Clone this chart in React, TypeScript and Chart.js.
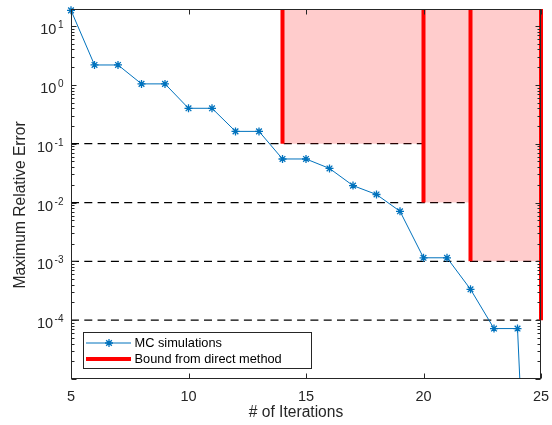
import React, { useEffect, useRef } from 'react';
import { Chart, registerables } from 'chart.js';

Chart.register(...registerables);

// ---- data ----
const iterations = [5, 6, 7, 8, 9, 10, 11, 12, 13, 14, 15, 16, 17, 18, 19, 20, 21, 22, 23, 24, 25];
const mcError = [18.5, 2.18, 2.18, 1.04, 1.04, 0.40, 0.40, 0.162, 0.162, 0.055, 0.055, 0.038, 0.0194, 0.0137, 0.0071, 0.00115, 0.00115, 3.35e-4, 7.2e-5, 7.2e-5, 1.3e-13];
const boundIter = [14, 20, 22, 25];
const boundValue = [1e-1, 1e-2, 1e-3, 1e-4];
const xTicks = [5, 10, 15, 20, 25];
const yDecades = [1, 0, -1, -2, -3, -4];
const legendLabels = ['MC simulations', 'Bound from direct method'];
const xTitle = '# of Iterations';
const yTitle = 'Maximum Relative Error';

const X_MIN = 5;
const X_MAX = 25;
const Y_MIN = 1e-5;
const Y_MAX = 19.5;

const BLUE = '#0072BD';
const RED = 'rgb(255,0,0)';
const PINK = 'rgba(255,0,0,0.2)';
const AXIS = '#262626';
const FONT = '"Liberation Sans", Arial, Helvetica, sans-serif';

function drawStar(ctx: CanvasRenderingContext2D, x: number, y: number, r: number) {
  const d = r * Math.SQRT1_2;
  ctx.beginPath();
  ctx.moveTo(x - r, y); ctx.lineTo(x + r, y);
  ctx.moveTo(x, y - r); ctx.lineTo(x, y + r);
  ctx.moveTo(x - d, y - d); ctx.lineTo(x + d, y + d);
  ctx.moveTo(x - d, y + d); ctx.lineTo(x + d, y - d);
  ctx.stroke();
}

const axesPlugin = {
  id: 'matlabAxes',
  afterDraw(chart: any) {
    const ctx: CanvasRenderingContext2D = chart.ctx;
    const { left, right, top, bottom } = chart.chartArea;
    const xs = chart.scales.x;
    const ys = chart.scales.y;
    ctx.save();
    ctx.strokeStyle = AXIS;
    ctx.lineWidth = 1;
    // box
    ctx.strokeRect(Math.round(left) + 0.5, Math.round(top) + 0.5, Math.round(right - left) - 1, Math.round(bottom - top) - 1);

    const L = Math.round(left) + 0.5;
    const R = Math.round(right) - 0.5;
    const T = Math.round(top) + 0.5;
    const B = Math.round(bottom) - 0.5;

    // x ticks
    ctx.beginPath();
    for (const v of xTicks) {
      const px = Math.round(xs.getPixelForValue(v)) + 0.5;
      ctx.moveTo(px, B); ctx.lineTo(px, B - 5);
      ctx.moveTo(px, T); ctx.lineTo(px, T + 5);
    }
    // y ticks (major + minor)
    for (let e = -5; e <= 1; e++) {
      for (let m = 1; m <= 9; m++) {
        const v = m * Math.pow(10, e);
        if (v < Y_MIN || v > Y_MAX) continue;
        const py = Math.round(ys.getPixelForValue(v)) + 0.5;
        const len = m === 1 ? 5 : 3;
        ctx.moveTo(L, py); ctx.lineTo(L + len, py);
        ctx.moveTo(R, py); ctx.lineTo(R - len, py);
      }
    }
    ctx.stroke();

    // x tick labels
    ctx.fillStyle = AXIS;
    ctx.font = `14.5px ${FONT}`;
    ctx.textAlign = 'center';
    ctx.textBaseline = 'middle';
    for (const v of xTicks) {
      ctx.fillText(String(v), xs.getPixelForValue(v), bottom + 17.5);
    }

    // y tick labels: 10^e
    const rightEdge = left - 7.5;
    for (const e of yDecades) {
      const py = ys.getPixelForValue(Math.pow(10, e));
      const expStr = String(e);
      ctx.font = `10px ${FONT}`;
      const expW = ctx.measureText(expStr).width;
      ctx.font = `14.5px ${FONT}`;
      const baseW = ctx.measureText('10').width;
      const gap = 1.5;
      const x0 = rightEdge - expW - gap - baseW;
      ctx.textAlign = 'left';
      ctx.textBaseline = 'alphabetic';
      ctx.fillText('10', x0, py + 8);
      ctx.font = `10px ${FONT}`;
      ctx.fillText(expStr, x0 + baseW + gap, py + 2);
    }

    // axis titles
    ctx.font = `15.6px ${FONT}`;
    ctx.textAlign = 'center';
    ctx.textBaseline = 'middle';
    ctx.fillText(xTitle, (left + right) / 2 - 10, bottom + 34);
    ctx.save();
    ctx.translate(21, (top + bottom) / 2 + 11);
    ctx.rotate(-Math.PI / 2);
    ctx.fillText(yTitle, 0, 0);
    ctx.restore();

    // legend
    const lx = Math.round(left + 12) + 0.5;
    const ly = Math.round(bottom - 47.5) + 0.5;
    const lw = 228;
    const lh = 36;
    ctx.fillStyle = '#ffffff';
    ctx.fillRect(lx, ly, lw, lh);
    ctx.strokeStyle = AXIS;
    ctx.lineWidth = 1;
    ctx.strokeRect(lx, ly, lw, lh);

    const row1 = ly + 10.5;
    const row2 = ly + 26.5;
    ctx.strokeStyle = BLUE;
    ctx.lineWidth = 1;
    ctx.beginPath();
    ctx.moveTo(lx + 2.5, row1); ctx.lineTo(lx + 47.5, row1);
    ctx.stroke();
    ctx.lineWidth = 1.3;
    drawStar(ctx, lx + 25.5, row1, 4);

    ctx.strokeStyle = RED;
    ctx.lineWidth = 4;
    ctx.beginPath();
    ctx.moveTo(lx + 2.5, row2); ctx.lineTo(lx + 47.5, row2);
    ctx.stroke();

    ctx.fillStyle = '#000000';
    ctx.font = `12.8px ${FONT}`;
    ctx.textAlign = 'left';
    ctx.textBaseline = 'middle';
    ctx.fillText(legendLabels[0], lx + 51, row1 + 0.5);
    ctx.fillText(legendLabels[1], lx + 51, row2 + 0.5);

    ctx.restore();
  },
};

export default function App() {
  const canvasRef = useRef<HTMLCanvasElement | null>(null);

  useEffect(() => {
    const canvas = canvasRef.current;
    if (!canvas) return;

    const datasets: any[] = [];

    // MC simulations
    datasets.push({
      type: 'line',
      label: legendLabels[0],
      data: iterations.map((x, i) => ({ x, y: mcError[i] })),
      borderColor: BLUE,
      backgroundColor: BLUE,
      borderWidth: 1,
      pointStyle: 'star',
      pointRadius: 4,
      pointBorderWidth: 1.3,
      pointBorderColor: BLUE,
      fill: false,
      order: 0,
      clip: { left: 6, top: 6, right: 6, bottom: 0 },
    });

    // red bounds
    const redData: any[] = [];
    boundIter.forEach((bx, k) => {
      redData.push({ x: bx, y: Y_MAX });
      redData.push({ x: bx, y: boundValue[k] });
      redData.push({ x: bx, y: null });
    });
    datasets.push({
      type: 'line',
      label: legendLabels[1],
      data: redData,
      borderColor: RED,
      borderWidth: 4,
      pointRadius: 0,
      spanGaps: false,
      fill: false,
      order: 1,
      clip: { left: 0, top: 0, right: 3, bottom: 0 },
    });

    // pink regions
    for (let k = 0; k < boundIter.length - 1; k++) {
      datasets.push({
        type: 'line',
        data: [
          { x: boundIter[k], y: boundValue[k] },
          { x: boundIter[k + 1], y: boundValue[k] },
        ],
        borderColor: 'rgba(0,0,0,0)',
        borderWidth: 0,
        backgroundColor: PINK,
        pointRadius: 0,
        fill: 'end',
        order: 2,
        clip: 0,
      });
    }

    // dashed reference lines
    for (let k = 0; k < boundValue.length; k++) {
      const xEnd = boundIter[Math.min(k + 1, boundIter.length - 1)];
      datasets.push({
        type: 'line',
        data: [
          { x: X_MIN, y: boundValue[k] },
          { x: xEnd, y: boundValue[k] },
        ],
        borderColor: '#000000',
        borderWidth: 1.2,
        borderDash: [8, 5.3],
        pointRadius: 0,
        fill: false,
        order: 3,
        clip: 0,
      });
    }

    const chart = new Chart(canvas, {
      type: 'line',
      data: { datasets },
      options: {
        responsive: false,
        animation: false,
        devicePixelRatio: 1,
        parsing: true,
        layout: { padding: { left: 71, right: 11, top: 9, bottom: 46 } },
        scales: {
          x: { type: 'linear', min: X_MIN, max: X_MAX, display: false },
          y: { type: 'logarithmic', min: Y_MIN, max: Y_MAX, display: false },
        },
        plugins: {
          legend: { display: false },
          tooltip: { enabled: false },
        },
        events: [],
      },
      plugins: [axesPlugin],
    } as any);

    return () => chart.destroy();
  }, []);

  return (
    <div style={{ position: 'absolute', left: 0, top: 0, width: 552, height: 425, background: '#fff' }}>
      <canvas ref={canvasRef} width={552} height={425} style={{ display: 'block', width: 552, height: 425 }} />
    </div>
  );
}
